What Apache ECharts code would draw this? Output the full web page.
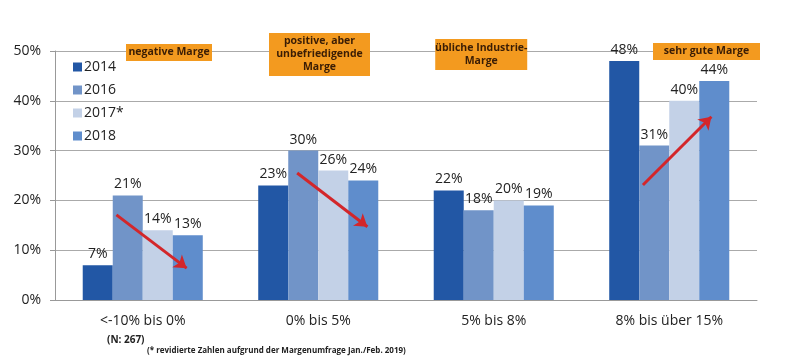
<!DOCTYPE html>
<html><head><meta charset="utf-8">
<script src="https://cdn.jsdelivr.net/npm/echarts@6/dist/echarts.min.js"></script>
<style>html,body{margin:0;padding:0;background:#fff}#c{width:800px;height:364px}</style>
</head><body><div id="c"></div>
<script>
const categories = ['<-10% bis 0%', '0% bis 5%', '5% bis 8%', '8% bis über 15%'];
const seriesNames = ['2014', '2016', '2017*', '2018'];
const v2014 = [7, 23, 22, 48];
const v2016 = [21, 30, 18, 31];
const v2017 = [14, 26, 20, 40];
const v2018 = [13, 24, 19, 44];
const yTicks = [0, 10, 20, 30, 40, 50];
const colors = ['#2257a5', '#7194c8', '#c3d1e7', '#5f8dcc'];
// trend arrows in data units: x on a 0..4 band scale, y in percent
const arrows = [
  [[0.35, 17.1], [0.75, 6.4]],
  [[1.38, 25.5], [1.78, 14.7]],
  [[3.35, 23.1], [3.74, 36.8]]
];
const boxes = [
  {text: 'negative Marge', x: 126, y: 44, w: 86, h: 17},
  {text: 'positive, aber\nunbefriedigende\nMarge', x: 269, y: 33, w: 101, h: 43},
  {text: 'übliche Industrie-\nMarge', x: 435, y: 39, w: 92, h: 31},
  {text: 'sehr gute Marge', x: 653, y: 43, w: 107, h: 17}
];
const font = '"Open Sans", "DejaVu Sans", sans-serif';
const chart = echarts.init(document.getElementById('c'));
const vals = [v2014, v2016, v2017, v2018];
const series = seriesNames.map((n, i) => ({
  name: n, type: 'bar', data: vals[i], barGap: '0%', barCategoryGap: '31.6%',
  itemStyle: {color: colors[i]},
  label: {show: true, position: 'top', distance: 4, formatter: '{c}%', color: '#222', fontSize: 14, fontFamily: font}
}));
series.push({
  type: 'scatter', xAxisIndex: 1, data: [], silent: true,
  markLine: {
    silent: true, symbol: ['none', 'arrow'], symbolSize: [12, 12],
    lineStyle: {color: '#d3262a', width: 3, type: 'solid'},
    label: {show: false},
    data: arrows.map(a => [{coord: a[0]}, {coord: a[1]}])
  }
});
const graphic = boxes.map(b => ({
  type: 'group', left: b.x, top: b.y, z: 100,
  children: [
    {type: 'rect', z: 100, shape: {x: 0, y: 0, width: b.w, height: b.h}, style: {fill: '#f39a1f'}},
    {type: 'text', z: 101, x: b.w / 2, y: b.h / 2, style: {text: b.text, fill: '#3a1d05', font: 'bold 10.5px ' + font, align: 'center', verticalAlign: 'middle', lineHeight: 13}}
  ]
}));
graphic.push({type: 'text', left: 107, top: 335, z: 100, style: {text: '(N: 267)', fill: '#222', font: 'bold 10px ' + font}});
graphic.push({type: 'text', left: 147, top: 347, z: 100, style: {text: '(* revidierte Zahlen aufgrund der Margenumfrage Jan./Feb. 2019)', fill: '#222', font: 'bold 8px ' + font}});
chart.setOption({
  animation: false,
  color: colors,
  grid: {left: 55, right: 43, top: 51, bottom: 64, containLabel: false},
  legend: {
    orient: 'vertical', left: 68, top: 55, itemWidth: 9, itemHeight: 9, itemGap: 9,
    icon: 'rect', data: seriesNames,
    textStyle: {fontSize: 14, color: '#222', fontFamily: font, padding: [0, 0, 0, -3]}
  },
  xAxis: [{
    type: 'category', data: categories,
    axisLine: {lineStyle: {color: '#999'}}, axisTick: {show: false},
    axisLabel: {color: '#222', fontSize: 14, fontFamily: font, margin: 14}
  }, {
    type: 'value', min: 0, max: 4, show: false
  }],
  yAxis: {
    type: 'value', min: 0, max: 50, interval: 10,
    axisLine: {show: true, lineStyle: {color: '#999'}},
    axisTick: {show: true, length: 5, lineStyle: {color: '#999'}},
    splitLine: {lineStyle: {color: '#aaa'}},
    axisLabel: {color: '#222', fontSize: 14, fontFamily: font, margin: 14, formatter: v => yTicks.includes(v) ? v + '%' : ''}
  },
  series: series,
  graphic: graphic
});
</script></body></html>
